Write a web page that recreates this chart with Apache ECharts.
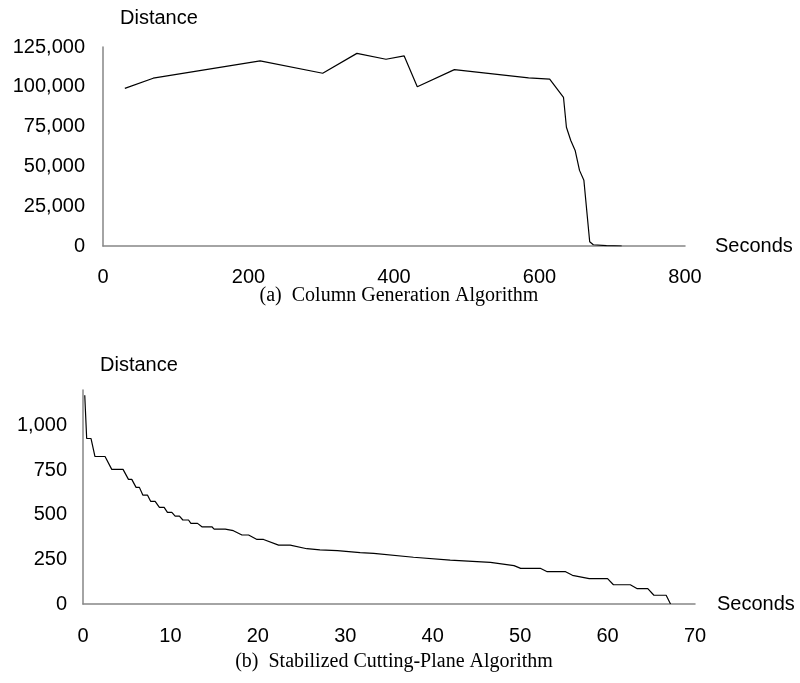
<!DOCTYPE html>
<html>
<head>
<meta charset="utf-8">
<script src="https://cdn.jsdelivr.net/npm/echarts@6/dist/echarts.min.js"></script>
<style>
    html, body {margin: 0; padding: 0; background: #fff;}
    #main {width: 800px; height: 683px;}
</style>
</head>
<body>
<div id="main"></div>
<script>
// (a) column generation: [seconds, distance]
const colGenPoints = [
    [30, 99000], [69, 105400], [216, 116300], [302, 108500], [349, 121000],
    [389, 117300], [414, 119400], [432, 100000], [483, 110800], [585, 105600],
    [614, 104800], [633, 93300], [637, 74600], [643, 66300], [649, 60000],
    [655, 47500], [661, 41300], [669, 2700], [674, 800], [692, 200], [713, 0]
];

// (b) stabilized cutting-plane: [seconds, distance]
const cuttingPlanePoints = [
    [0.2, 1171], [0.42, 928], [0.92, 928], [1.37, 827], [2.52, 827],
    [3.29, 755], [4.58, 755], [5.2, 699], [5.58, 699], [6.07, 654],
    [6.45, 654], [6.84, 611], [7.37, 611], [7.75, 575], [8.25, 575],
    [8.74, 542], [9.28, 542], [9.66, 514], [10.16, 514], [10.54, 493],
    [11.03, 493], [11.42, 471], [12.07, 471], [12.34, 452], [13.1, 452],
    [13.6, 433], [14.74, 433], [15.0, 420], [16.27, 420], [17.2, 411],
    [18.18, 387], [18.94, 387], [19.9, 362], [20.65, 362], [22.37, 330],
    [23.7, 330], [25.6, 310], [27.1, 303], [29.1, 299], [31.7, 288],
    [33.25, 284], [37.8, 262], [42.0, 246], [46.6, 233], [49.3, 215],
    [50.06, 200], [52.3, 200], [53.1, 181], [55.2, 181], [55.98, 161],
    [57.9, 142], [60.0, 142], [60.67, 108], [62.6, 108], [63.4, 86],
    [64.6, 86], [65.3, 49], [66.7, 49], [67.2, 0]
];

const captions = ['(a)  Column Generation Algorithm', '(b)  Stabilized Cutting-Plane Algorithm'];
const yNames = ['Distance', 'Distance'];
const xNames = ['Seconds', 'Seconds'];

const sans = 'Liberation Sans';
const serif = 'Liberation Serif';
const axisGray = '#868686';

function axisLine() {
    return {show: true, lineStyle: {color: axisGray, width: 1.5}};
}

const chart = echarts.init(document.getElementById('main'));
chart.setOption({
    animation: false,
    title: [
        {
            text: captions[0], left: 394, top: 281, textAlign: 'center',
            textStyle: {fontFamily: serif, fontSize: 20, fontWeight: 'normal', color: '#000'}
        },
        {
            text: captions[1], left: 389, top: 647, textAlign: 'center',
            textStyle: {fontFamily: serif, fontSize: 20, fontWeight: 'normal', color: '#000'}
        }
    ],
    grid: [
        {left: 103, right: 115, top: 47, bottom: 437},
        {left: 83, right: 105, top: 390, bottom: 79}
    ],
    xAxis: [
        {
            type: 'value', gridIndex: 0, min: 0, max: 800, interval: 200,
            name: xNames[0], nameLocation: 'end', nameGap: 30,
            nameTextStyle: {fontFamily: sans, fontSize: 20, color: '#000', padding: [0, 0, 12, 0]},
            axisLine: axisLine(), axisTick: {show: false}, splitLine: {show: false},
            axisLabel: {fontFamily: sans, fontSize: 20, color: '#000', margin: 21}
        },
        {
            type: 'value', gridIndex: 1, min: 0, max: 70, interval: 10,
            name: xNames[1], nameLocation: 'end', nameGap: 22,
            nameTextStyle: {fontFamily: sans, fontSize: 20, color: '#000', padding: [0, 0, 12, 0]},
            axisLine: axisLine(), axisTick: {show: false}, splitLine: {show: false},
            axisLabel: {fontFamily: sans, fontSize: 20, color: '#000', margin: 22}
        }
    ],
    yAxis: [
        {
            type: 'value', gridIndex: 0, min: 0, max: 125000, interval: 25000,
            name: yNames[0], nameLocation: 'end', nameGap: 19,
            nameTextStyle: {fontFamily: sans, fontSize: 20, color: '#000', align: 'left', padding: [0, 0, 0, 17]},
            axisLine: axisLine(), axisTick: {show: false}, splitLine: {show: false},
            axisLabel: {
                fontFamily: sans, fontSize: 20, color: '#000', margin: 18,
                formatter: v => v.toLocaleString('en-US')
            }
        },
        {
            type: 'value', gridIndex: 1, min: 0, max: 1200, interval: 250,
            name: yNames[1], nameLocation: 'end', nameGap: 15,
            nameTextStyle: {fontFamily: sans, fontSize: 20, color: '#000', align: 'left', padding: [0, 0, 0, 17]},
            axisLine: axisLine(), axisTick: {show: false}, splitLine: {show: false},
            axisLabel: {
                fontFamily: sans, fontSize: 20, color: '#000', margin: 16,
                formatter: v => (v % 250 === 0 ? v.toLocaleString('en-US') : '')
            }
        }
    ],
    series: [
        {
            type: 'line', xAxisIndex: 0, yAxisIndex: 0, data: colGenPoints,
            showSymbol: false, lineStyle: {color: '#000', width: 1.2}
        },
        {
            type: 'line', xAxisIndex: 1, yAxisIndex: 1, data: cuttingPlanePoints,
            showSymbol: false, lineStyle: {color: '#000', width: 1.2}
        }
    ]
});
</script>
</body>
</html>
